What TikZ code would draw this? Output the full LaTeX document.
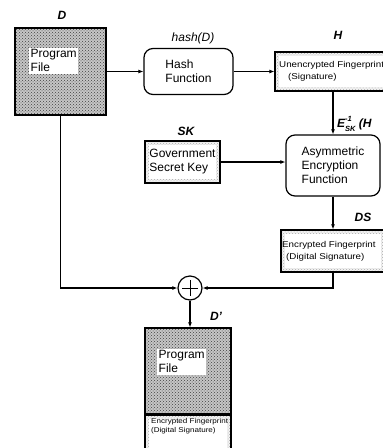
\documentclass[tikz,border=0pt]{standalone}
\usepackage{fontspec}
\setmainfont{Liberation Sans}
\newfontfamily\widefont[FakeStretch=1.15]{Liberation Sans}
\usetikzlibrary{arrows.meta,patterns}
\newcommand{\minifont}{\fontsize{7.5}{8}\selectfont}
\begin{document}
\begin{tikzpicture}[x=1pt,y=-1pt,
  box/.style={draw, line width=1.2pt, inner sep=0pt},
  dark/.style={box, preaction={fill=gray!45}, pattern=crosshatch dots, pattern color=black!75},
  light/.style={box, preaction={fill=gray!10}, pattern=crosshatch dots, pattern color=gray!65,
    path picture={\fill[white] ([shift={(4,4)}]path picture bounding box.north west) rectangle ([shift={(-4,-4)}]path picture bounding box.south east);}},
  rnd/.style={box, rounded corners=9pt, fill=white},
  txt/.style={font=\fontsize{12}{14}\selectfont, align=left},
  lab/.style={font=\fontsize{12}{14}\selectfont\bfseries\itshape},
  arr/.style={line width=1.1pt, -{Latex[length=5pt,width=4pt]}},
  whitelab/.style={txt, fill=white, inner sep=1.5pt, anchor=north west}
]
\useasboundingbox (0,0) rectangle (383,448);

% boxes
\node[dark, minimum width=91pt, minimum height=87pt] (d) at (60.5,71.5) {};
\node[whitelab] (dtxt) at (29,48) {Program\\File};

\node[rnd, txt, minimum width=89pt, minimum height=46pt] (hash) at (188.5,71.5) {Hash\\Function};

\node[light, minimum width=116pt, minimum height=39pt] (h) at (333,71.5) {};
\node[font=\widefont\fontsize{8.5}{12}\selectfont, align=left, anchor=west, inner sep=0pt] (htxt) at (279,71.5) {Unencrypted Fingerprint\\\hspace*{9pt}(Signature)};

\node[light, txt, minimum width=75pt, minimum height=42pt] (gov) at (182.5,162) {Government\\Secret Key};

\node[rnd, txt, minimum width=94pt, minimum height=61pt] (asym) at (333,165.5) {Asymmetric\\Encryption\\Function};

\node[light, minimum width=104pt, minimum height=42pt] (ds) at (333,251) {};
\node[font=\widefont\fontsize{8.5}{12}\selectfont, align=left, anchor=west, inner sep=0pt] (dstxt) at (282,251) {Encrypted Fingerprint\\\hspace*{4pt}(Digital Signature)};

\node[circle, draw, line width=1.2pt, minimum size=24pt, inner sep=0pt,
  path picture={\draw[line width=1pt] ([shift={(-8,0)}]path picture bounding box.center) -- ([shift={(8,0)}]path picture bounding box.center)
  ([shift={(0,-8)}]path picture bounding box.center) -- ([shift={(0,8)}]path picture bounding box.center);}] (c) at (190,288) {};

\node[dark, minimum width=86pt, minimum height=86pt] (dp) at (188,371) {};
\node[whitelab] (dptxt) at (157,349) {Program\\File};
\node[light, minimum width=86pt, minimum height=44pt, anchor=north] (dpl) at (dp.south) {};
\node[font=\widefont\fontsize{7}{9.5}\selectfont, align=left, anchor=west, inner sep=0pt] (dpltxt) at (151,426) {Encrypted Fingerprint\\(Digital Signature)};

% labels
\node[lab] (ld) at (62,15) {D};
\node[font=\fontsize{12}{14}\selectfont\itshape] (lhash) at (193,38) {hash(D)};
\node[lab] (lh) at (338,35) {H};
\node[lab] (lsk) at (186,131) {SK};
\node[lab, anchor=west, inner sep=0pt] (le) at (337,124) {E\raisebox{6.5pt}{\rlap{\minifont -1}}\raisebox{-4pt}{\minifont SK}\ (H};
\node[lab] (lds) at (363,217) {DS};
\node[lab] (ldp) at (216,316) {D'};

% connectors
\draw[arr] (d) -- (hash);
\draw[arr] (hash) -- (h);
\draw[arr] (h) -- (asym);
\draw[arr] (gov.east) -- (gov.east -| asym.west);
\draw[arr] (asym) -- (ds);
\draw[arr] (d.south) |- (c.west);
\draw[arr] (ds.south) |- (c.east);
\draw[arr] (c.south) -- (c.south |- dp.north);
\end{tikzpicture}
\end{document}
